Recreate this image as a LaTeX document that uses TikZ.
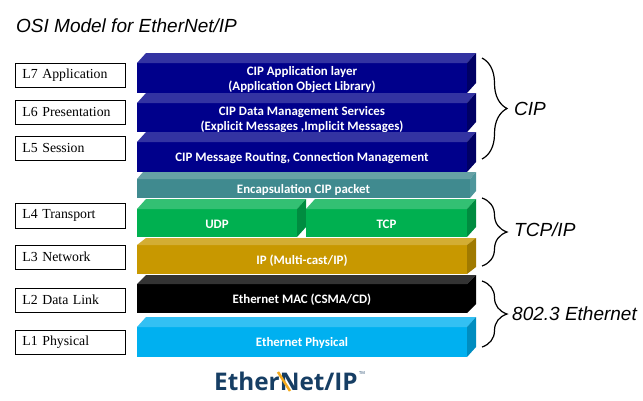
\documentclass[tikz,border=0pt]{standalone}
\usepackage{fontspec}
\setmainfont{Liberation Serif}
\newfontfamily\layerfont{Carlito}
\newfontfamily\ariafont{Liberation Sans}
\newfontfamily\logofont{Open Sans}
\usepackage{tikz}
\usetikzlibrary{positioning,calc,decorations.pathreplacing}
\tikzstyle{osibox} = [rectangle, draw=black, line width=0.8pt, minimum width=110pt, minimum height=24.5pt, inner xsep=7pt, inner ysep=0pt, text width=96pt, align=left, font=\fontsize{13.8}{15}\selectfont, anchor=north west]
\tikzstyle{layer} = [rectangle, inner sep=0pt, outer sep=0pt, anchor=north west, align=center, text=white, font=\layerfont\bfseries\fontsize{12.9}{15}\selectfont]
\tikzstyle{group} = [font=\ariafont\itshape\fontsize{19}{20}\selectfont, anchor=west, inner sep=0pt]
\tikzstyle{bracket} = [line width=1.2pt, decorate, decoration={brace, amplitude=25pt, aspect=0.5}]
% name, x, y, width, height, dx, dy, colour, side colour
\newcommand{\layerblock}[9]{
  \node (#1) [layer, fill=#8, minimum width=#4pt, minimum height=#5pt] at (#2,#3) {\rule{0pt}{12pt}\layertext};
  \fill[#8!80!white] (#1.north west) -- ++(#6,-#7) -- ++(#4,0) -- ($(#1.north east)$) -- cycle;
  \fill[#9] (#1.north east) -- ++(#6,-#7) -- ++(0,#5) -- ($(#1.south east)$) -- cycle;
}
\definecolor{cipblue}{RGB}{0,0,139}
\definecolor{cipside}{RGB}{0,0,100}
\definecolor{encapteal}{RGB}{64,138,143}
\definecolor{encapside}{RGB}{78,150,155}
\definecolor{udpgreen}{RGB}{0,176,80}
\definecolor{udpside}{RGB}{0,140,64}
\definecolor{ipgold}{RGB}{200,152,0}
\definecolor{ipside}{RGB}{160,122,0}
\definecolor{physblue}{RGB}{0,176,240}
\definecolor{physside}{RGB}{0,141,192}
\definecolor{logoblue}{RGB}{22,62,100}
\definecolor{logogold}{RGB}{244,170,30}
\begin{document}
\begin{tikzpicture}[x=1pt, y=-1pt]
\useasboundingbox (0,0) rectangle (643,400);

\node (title) [font=\ariafont\itshape\fontsize{19}{20}\selectfont, anchor=west, inner sep=0pt] at (16,26) {OSI Model for EtherNet/IP};

\node (L7) [osibox] at (15,62.7) {L7 Application};
\node (L6) [osibox] at (15,99.5) {L6 Presentation};
\node (L5) [osibox] at (15,135.5) {L5 Session};
\node (L4) [osibox] at (15,203) {L4 Transport};
\node (L3) [osibox] at (15,244.5) {L3 Network};
\node (L2) [osibox] at (15,287.5) {L2 Data Link};
\node (L1) [osibox] at (15,329.5) {L1 Physical};

\def\layertext{CIP Application layer\\(Application Object Library)}
\layerblock{app}{137}{63}{330}{30}{9}{10}{cipblue}{cipside}
\def\layertext{CIP Data Management Services\\(Explicit Messages ,Implicit Messages)}
\layerblock{data}{137}{103}{330}{29}{9}{10}{cipblue}{cipside}
\def\layertext{CIP Message Routing, Connection Management}
\layerblock{routing}{137}{142}{330}{30}{9}{10}{cipblue}{cipside}
\def\layertext{Encapsulation CIP packet}
\layerblock{encap}{137}{179}{333}{19}{6}{7}{encapteal}{encapside}
\def\layertext{UDP}
\layerblock{udp}{137}{209}{160}{28}{9}{10}{udpgreen}{udpside}
\def\layertext{TCP}
\layerblock{tcp}{306}{209}{161}{28}{9}{10}{udpgreen}{udpside}
\def\layertext{IP (Multi-cast/IP)}
\layerblock{ip}{137}{245}{330}{29}{9}{7}{ipgold}{ipside}
\def\layertext{Ethernet MAC (CSMA/CD)}
\layerblock{mac}{137}{284}{330}{29}{9}{9}{black}{black}
\def\layertext{Ethernet Physical}
\layerblock{phys}{137}{327}{330}{30}{9}{10}{physblue}{physside}

% braces on the right
\coordinate (cipa) at (482,58);
\coordinate (cipb) at (482,159);
\coordinate (tcpa) at (482,198);
\coordinate (tcpb) at (482,266);
\coordinate (etha) at (482,281);
\coordinate (ethb) at (482,347);
\draw[bracket] (cipa) -- (cipb);
\draw[bracket] (tcpa) -- (tcpb);
\draw[bracket] (etha) -- (ethb);

\node (cip) [group] at (514,109) {CIP};
\node (tcpip) [group] at (514,230) {TCP/IP};
\node (eth) [group] at (512,314) {802.3 Ethernet};

\node (logo) [font=\logofont\bfseries\fontsize{24.3}{28}\selectfont, text=logoblue, inner sep=0pt] at (286,381) {EtherNet/IP};
\draw[logogold, line width=2.5pt] (278,372) -- (290,391);
\node (tm) [font=\logofont\fontsize{4}{4}\selectfont, text=logoblue, inner sep=0pt] at (362,373) {TM};
\end{tikzpicture}
\end{document}
